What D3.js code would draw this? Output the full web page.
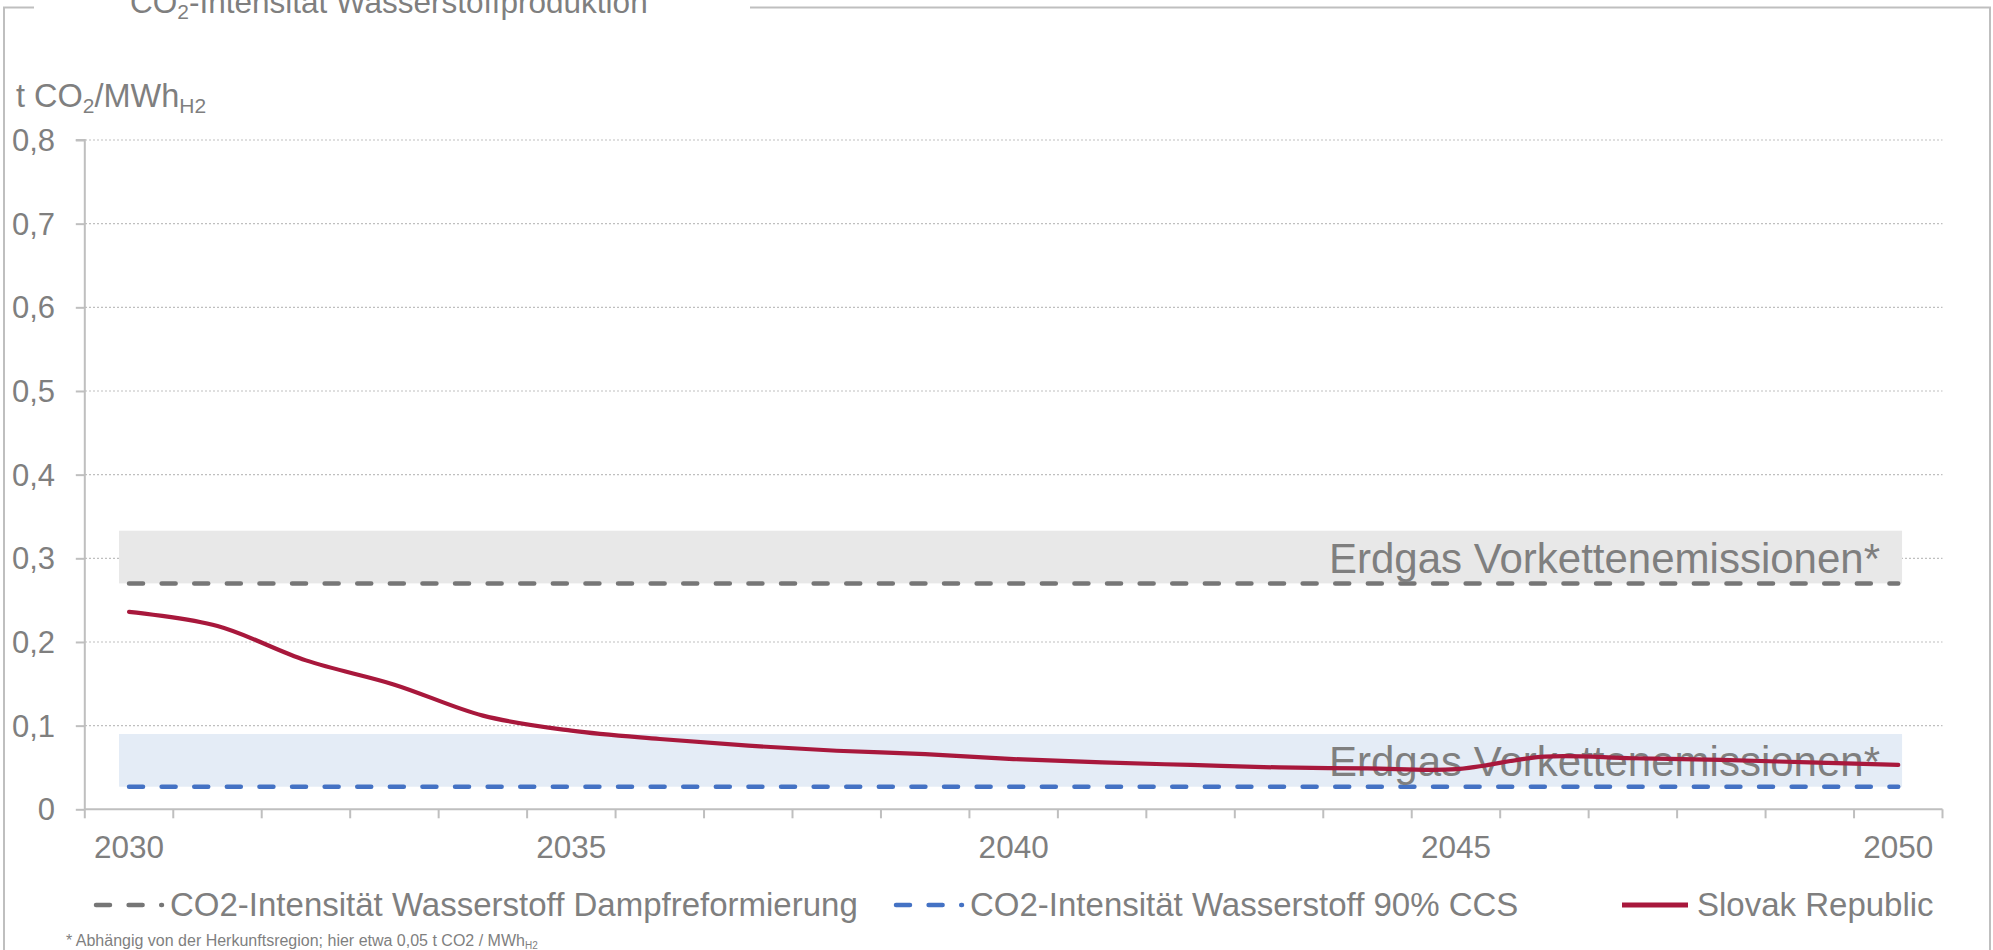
<!DOCTYPE html>
<html><head><meta charset="utf-8">
<script src="https://cdn.jsdelivr.net/npm/d3@7"></script>
<style>body{margin:0;background:#fff}svg{display:block}</style>
</head><body>
<svg id="c" width="1993" height="950"></svg>
<script>
const years = [2030,2031,2032,2033,2034,2035,2036,2037,2038,2039,2040,2041,2042,2043,2044,2045,2046,2047,2048,2049,2050];
const xTickLabels = [2030,2035,2040,2045,2050];
const yTickValues = [0,0.1,0.2,0.3,0.4,0.5,0.6,0.7,0.8];
const smrIntensity = [0.27,0.27,0.27,0.27,0.27,0.27,0.27,0.27,0.27,0.27,0.27,0.27,0.27,0.27,0.27,0.27,0.27,0.27,0.27,0.27,0.27];
const ccsIntensity = [0.027,0.027,0.027,0.027,0.027,0.027,0.027,0.027,0.027,0.027,0.027,0.027,0.027,0.027,0.027,0.027,0.027,0.027,0.027,0.027,0.027];
const slovakRepublic = [0.236,0.219,0.178,0.149,0.112,0.094,0.084,0.076,0.070,0.066,0.060,0.056,0.053,0.050,0.049,0.048,0.063,0.061,0.059,0.056,0.053];
const smrUpstreamBand = [0.27,0.333];
const ccsUpstreamBand = [0.027,0.09];
const legendLabels = ["CO2-Intensität Wasserstoff Dampfreformierung","CO2-Intensität Wasserstoff 90% CCS","Slovak Republic"];
const bandLabel = "Erdgas Vorkettenemissionen*";

const TXT = "#7f7f7f", AX = "#bfbfbf";
const GRAY = "#767676", BLUE = "#4472c4", RED = "#a8183c";
const FONT = "'Liberation Sans', Arial, sans-serif";

const svg = d3.select("#c");
svg.append("rect").attr("width",1993).attr("height",950).attr("fill","#fff");

const x = d3.scaleBand().domain(years).range([84.8,1942.5]).paddingInner(0).paddingOuter(0);
const xc = d => x(d) + x.bandwidth()/2;
const y = d3.scaleLinear().domain([0,0.8]).range([809.3,140]);

function text(g, px, py, str, size, anchor){
  return g.append("text").attr("x",px).attr("y",py)
    .attr("font-family",FONT).attr("font-size",size).attr("fill",TXT)
    .attr("text-anchor",anchor||"start").text(str);
}

// frame
svg.append("path").attr("d","M34,7.5H4V950M750,7.5H1990V950").attr("fill","none").attr("stroke",AX).attr("stroke-width",2);

// title
const t = svg.append("text").attr("x",130).attr("y",13.3)
  .attr("font-family",FONT).attr("font-size",31.5).attr("fill",TXT);
t.append("tspan").text("CO");
t.append("tspan").attr("font-size",21).attr("dy",6).text("2");
t.append("tspan").attr("dy",-6).text("-Intensität Wasserstoffproduktion");

// y title
const yt = svg.append("text").attr("x",16).attr("y",107)
  .attr("font-family",FONT).attr("font-size",32.5).attr("fill",TXT);
yt.append("tspan").text("t CO");
yt.append("tspan").attr("font-size",21).attr("dy",6).text("2");
yt.append("tspan").attr("dy",-6).text("/MWh");
yt.append("tspan").attr("font-size",21).attr("dy",6).text("H2");

// gridlines
svg.append("g").selectAll("line").data(yTickValues.filter(v=>v>0)).join("line")
  .attr("x1",85).attr("x2",1942.5).attr("y1",d=>y(d)).attr("y2",d=>y(d))
  .attr("stroke",AX).attr("stroke-width",1.2).attr("stroke-dasharray","2,2");

// bands
const bandX0 = xc(years[0]) - 10, bandX1 = xc(years[years.length-1]) + 3.8;
[[smrUpstreamBand,"#e8e8e8"],[ccsUpstreamBand,"#e4ecf6"]].forEach(([b,c])=>{
  svg.append("rect").attr("x",bandX0).attr("width",bandX1-bandX0)
    .attr("y",y(b[1])).attr("height",y(b[0])-y(b[1])).attr("fill",c);
});

// axes
const yAxis = d3.axisLeft(y).tickValues(yTickValues).tickSize(9).tickFormat("");
const ga = svg.append("g").attr("transform","translate(84.8,0)").call(yAxis);
ga.selectAll("path,line").attr("stroke",AX).attr("stroke-width",2);
ga.select(".domain").attr("d",`M-9,${y(0.8)}H0V${y(0)}`);
yTickValues.forEach(v=>{
  text(svg, 55, y(v)+11, v===0 ? "0" : d3.format(".1f")(v).replace(".",","), 31, "end");
});

const xAxis = d3.axisBottom(x).tickSize(9).tickFormat("");
const gx = svg.append("g").attr("transform",`translate(0,${y(0)})`).call(xAxis);
gx.selectAll("path,line").attr("stroke",AX).attr("stroke-width",2);
gx.selectAll(".tick line").attr("transform",`translate(${-x.bandwidth()/2},0)`);
gx.append("line").attr("x1",1942.5).attr("x2",1942.5).attr("y1",0).attr("y2",9).attr("stroke",AX).attr("stroke-width",2);
gx.select(".domain").attr("d",`M84.8,0H1942.5`);
xTickLabels.forEach(v=> text(svg, xc(v), 858, String(v), 31.5, "middle"));

// dashed lines
const line = d3.line().x((d,i)=>xc(years[i])).y(d=>y(d));
[[smrIntensity,GRAY],[ccsIntensity,BLUE]].forEach(([s,c])=>{
  svg.append("path").attr("d",line(s)).attr("fill","none").attr("stroke",c)
    .attr("stroke-width",4.5).attr("stroke-linecap","round").attr("stroke-dasharray","14,18.6");
});

// labels on bands
[smrUpstreamBand,ccsUpstreamBand].forEach(b=>{
  text(svg, 1880, y(b[0])-10.4, bandLabel, 42, "end");
});

// Slovak line (Excel-style smoothing)
const smooth = d3.line().x((d,i)=>xc(years[i])).y(d=>y(d)).curve(d3.curveCatmullRom.alpha(0));
svg.append("path").attr("d",smooth(slovakRepublic)).attr("fill","none").attr("stroke",RED)
  .attr("stroke-width",4.2).attr("stroke-linejoin","round").attr("stroke-linecap","round");

// legend
const LY = 916;
const legendSym = [[96,162,GRAY,true],[896,962,BLUE,true],[1622,1688,RED,false]];
const legendTextX = [170, 970, 1697];
legendLabels.forEach((l,i)=>{
  const [a,b,c,dash] = legendSym[i];
  const ln = svg.append("line").attr("x1",a).attr("x2",b).attr("y1",LY-11).attr("y2",LY-11)
    .attr("stroke",c).attr("stroke-width",dash?4.5:5).attr("stroke-linecap",dash?"round":"butt");
  if(dash) ln.attr("stroke-dasharray","14,18.6");
  text(svg, legendTextX[i], LY, l, 33, "start");
});

// footnote
const fn = svg.append("text").attr("x",66).attr("y",946)
  .attr("font-family",FONT).attr("font-size",16).attr("fill",TXT);
fn.append("tspan").text("* Abhängig von der Herkunftsregion; hier etwa 0,05 t CO2 / MWh");
fn.append("tspan").attr("font-size",10).attr("dy",3).text("H2");
</script>
</body></html>
